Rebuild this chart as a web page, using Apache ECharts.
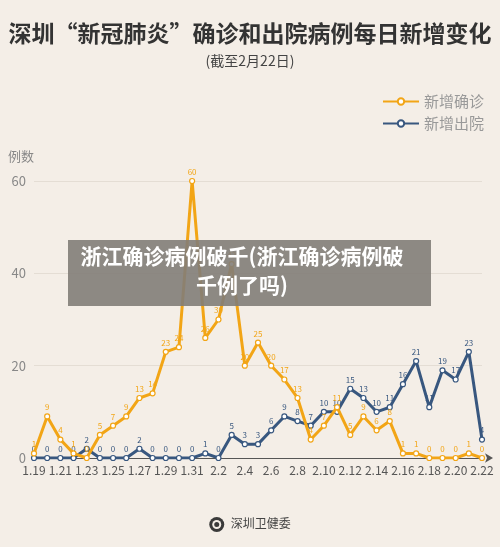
<!DOCTYPE html>
<html>
<head>
<meta charset="utf-8">
<script src="https://cdn.jsdelivr.net/npm/echarts@6/dist/echarts.min.js"></script>
<style>
  html, body { margin: 0; padding: 0; background: #f4eee7; }
  #main { width: 500px; height: 547px; }
</style>
</head>
<body>
<div id="main"></div>
<script>
// dates, Jan 19 - Feb 22
var days = ['1.19', '1.20', '1.21', '1.22', '1.23', '1.24', '1.25', '1.26', '1.27', '1.28', '1.29', '1.30', '1.31',
    '2.1', '2.2', '2.3', '2.4', '2.5', '2.6', '2.7', '2.8', '2.9', '2.10', '2.11', '2.12', '2.13', '2.14', '2.15',
    '2.16', '2.17', '2.18', '2.19', '2.20', '2.21', '2.22'];
var confirmed = [1, 9, 4, 1, 0, 5, 7, 9, 13, 14, 23, 24, 60,
    26, 30, 42, 20, 25, 20, 17, 13, 4, 7, 11, 5, 9, 6, 8,
    1, 1, 0, 0, 0, 1, 0];
var discharged = [0, 0, 0, 0, 2, 0, 0, 0, 2, 0, 0, 0, 0,
    1, 0, 5, 3, 3, 6, 9, 8, 7, 10, 10, 15, 13, 10, 11,
    16, 21, 11, 19, 17, 23, 4];
var yTicks = [0, 20, 40, 60];

var font = '"Noto Sans CJK SC", "Noto Sans", sans-serif';
var myChart = echarts.init(document.getElementById('main'));

function lineSeries(name, data, color, z) {
    return {
        name: name,
        type: 'line',
        data: data,
        z: z,
        symbol: 'circle',
        symbolSize: 5,
        lineStyle: { color: color, width: 3 },
        itemStyle: { color: '#fff', borderColor: color, borderWidth: 1.2 },
        label: {
            show: true,
            position: 'top',
            distance: 2,
            fontSize: 8,
            fontFamily: font,
            color: color
        },
        animation: false
    };
}

myChart.setOption({
    backgroundColor: '#f4eee7',
    textStyle: { fontFamily: font },
    title: {
        text: '深圳“新冠肺炎”确诊和出院病例每日新增变化',
        subtext: '(截至2月22日)',
        left: 'center',
        top: 17,
        itemGap: 9,
        textStyle: { fontSize: 23, fontWeight: 'bold', color: '#333', fontFamily: font },
        subtextStyle: { fontSize: 14, color: '#444', fontFamily: font }
    },
    legend: {
        orient: 'vertical',
        right: 11,
        top: 89,
        itemWidth: 36,
        itemHeight: 8,
        itemGap: 7,
        textStyle: { fontSize: 15, color: '#999', fontFamily: font },
        data: ['新增确诊', '新增出院']
    },
    grid: { left: 34, right: 18, top: 181, bottom: 89 },
    xAxis: {
        type: 'category',
        data: days,
        boundaryGap: false,
        axisLine: {
            lineStyle: { color: '#555', width: 1 },
            symbol: ['none', 'arrow'],
            symbolSize: [7, 8],
            symbolOffset: [0, 11]
        },
        axisTick: { show: false },
        axisLabel: { interval: 1, color: '#555', fontSize: 12, margin: 6, fontFamily: font },
        splitLine: { show: false }
    },
    yAxis: {
        type: 'value',
        min: yTicks[0],
        max: yTicks[yTicks.length - 1],
        interval: 20,
        name: '例数',
        nameLocation: 'end',
        nameGap: 18,
        nameTextStyle: { color: '#888', fontSize: 13, align: 'right', fontFamily: font },
        axisLine: { show: false },
        axisTick: { show: false },
        axisLabel: { color: '#888', fontSize: 13, margin: 8, fontFamily: font },
        splitLine: { lineStyle: { color: '#e4ddd4', width: 1 } }
    },
    series: [
        lineSeries('新增确诊', confirmed, '#f2a516', 3),
        lineSeries('新增出院', discharged, '#38577f', 2)
    ],
    graphic: [
        {
            type: 'group',
            left: 'center',
            top: 517,
            children: [
                { type: 'circle', shape: { cx: 8, cy: 8, r: 7.5 }, style: { fill: '#3a3a3a' } },
                { type: 'circle', shape: { cx: 8, cy: 8, r: 4.5 }, style: { fill: '#f4eee7' } },
                { type: 'circle', shape: { cx: 8, cy: 8, r: 2.5 }, style: { fill: '#3a3a3a' } },
                {
                    type: 'text', x: 22, y: 1,
                    style: { text: '深圳卫健委', fontSize: 12, fill: '#444', fontFamily: font }
                }
            ]
        },
        {
            type: 'rect',
            shape: { x: 68, y: 240, width: 363, height: 66 },
            style: { fill: 'rgba(130,125,120,0.9)' },
            z: 100
        },
        {
            type: 'text',
            x: 242, y: 271,
            z: 101,
            style: {
                text: '浙江确诊病例破千(浙江确诊病例破\n千例了吗)',
                fill: '#fff',
                fontSize: 21,
                fontWeight: 'bold',
                lineHeight: 29,
                align: 'center',
                verticalAlign: 'middle',
                fontFamily: font
            }
        }
    ]
});
</script>
</body>
</html>
